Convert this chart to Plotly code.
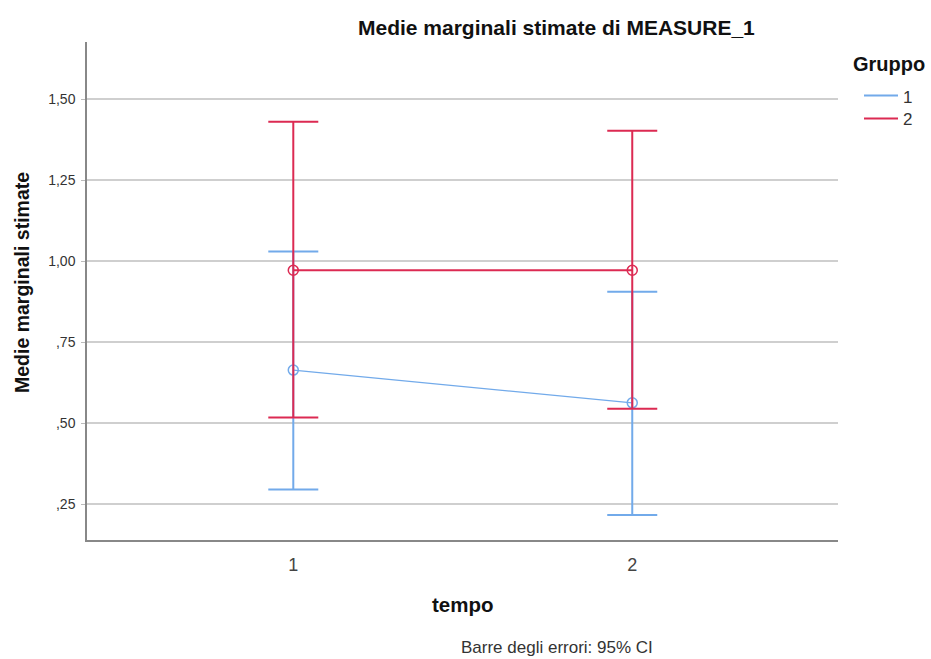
import plotly.graph_objects as go

tempo = [1, 2]
tempo_labels = ["1", "2"]
groups = ["1", "2"]
g1_mean = [0.664, 0.563]
g1_upper = [1.030, 0.906]
g1_lower = [0.296, 0.217]
g2_mean = [0.972, 0.972]
g2_upper = [1.430, 1.402]
g2_lower = [0.518, 0.545]
y_ticks = [0.25, 0.50, 0.75, 1.00, 1.25, 1.50]
y_ticklabels = [",25", ",50", ",75", "1,00", "1,25", "1,50"]

blue = "#72aaea"
red = "#dc2a52"
FONT = "Liberation Sans, Arial, sans-serif"

W, H = 931, 659
L, R, T, B = 87, 93, 42, 119
PW, PH = W - L - R, H - T - B

def px(x):
    return (x - L) / PW

def py(y):
    return (H - B - y) / PH

fig = go.Figure()

def add_group(name, mean, upper, lower, color, lw):
    fig.add_trace(go.Scatter(
        x=tempo, y=mean, name=name, mode="lines+markers", showlegend=False,
        line=dict(color=color, width=lw),
        marker=dict(symbol="circle-open", size=10, color=color, line=dict(width=1.5, color=color)),
        error_y=dict(type="data", symmetric=False,
                     array=[u - m for u, m in zip(upper, mean)],
                     arrayminus=[m - l for m, l in zip(mean, lower)],
                     color=color, thickness=2, width=25),
    ))

add_group(groups[0], g1_mean, g1_upper, g1_lower, blue, 1.2)
add_group(groups[1], g2_mean, g2_upper, g2_lower, red, 2)

fig.update_layout(
    width=W, height=H,
    margin=dict(l=L, r=R, t=T, b=B),
    paper_bgcolor="white", plot_bgcolor="white",
    font=dict(family=FONT, color="#333333"),
    showlegend=False,
    xaxis=dict(
        range=[0.3914, 2.607], tickvals=tempo, ticktext=tempo_labels,
        showgrid=False, zeroline=False, showline=True, linecolor="#888888", linewidth=1.5,
        ticks="", ticklabelstandoff=8, tickfont=dict(size=18, color="#444444"),
    ),
    yaxis=dict(
        range=[0.140, 1.676], tickvals=y_ticks, ticktext=y_ticklabels,
        showgrid=True, gridcolor="#cfcfcf", gridwidth=1.5, zeroline=False,
        showline=True, linecolor="#888888", linewidth=1.5,
        ticks="outside", ticklen=4, tickcolor="#bbbbbb", tickwidth=1,
        ticklabelstandoff=3, tickfont=dict(size=14, color="#333333"),
    ),
)

def ann(text, x, y, size, color="#111111", xanchor="center", angle=0):
    fig.add_annotation(
        text=text, xref="paper", yref="paper", x=px(x), y=py(y),
        xanchor=xanchor, yanchor="middle", showarrow=False, textangle=angle,
        font=dict(size=size, color=color, family=FONT),
    )

ann("<b>Medie marginali stimate di MEASURE_1</b>", 556, 27, 21)
ann("<b>Medie marginali stimate</b>", 22, 283, 19.5, angle=-90)
ann("<b>tempo</b>", 463, 604, 20.5)
ann("Barre degli errori: 95% CI", 557, 647, 17, color="#333333")

# legend
ann("<b>Gruppo</b>", 851, 64, 20, xanchor="left")
for lab, col, yy in [(groups[0], blue, 95.5), (groups[1], red, 118.5)]:
    fig.add_shape(type="line", xref="paper", yref="paper",
                  x0=px(864), x1=px(898), y0=py(yy), y1=py(yy),
                  line=dict(color=col, width=2))
    ann(lab, 901, yy + 1.5, 17, color="#333333", xanchor="left")

fig.write_html("out.html")
